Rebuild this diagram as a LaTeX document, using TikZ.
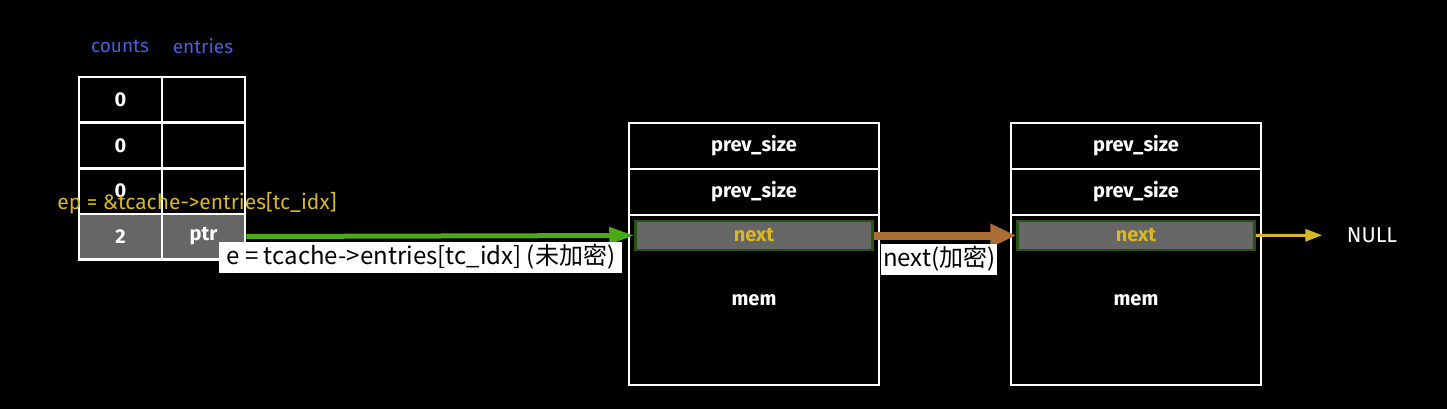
\documentclass[tikz,border=0pt]{standalone}
\usepackage{fontspec}
\setmainfont{Fira Sans}
\newfontfamily\cjkfont{Noto Sans CJK SC}
\usetikzlibrary{arrows.meta}

\definecolor{cellGray}{RGB}{102,102,102}
\definecolor{titleBlue}{RGB}{70,96,222}
\definecolor{ptrYellow}{RGB}{216,184,40}
\definecolor{linkGreen}{RGB}{76,168,24}
\definecolor{linkBrown}{RGB}{170,110,52}
\definecolor{nextBorder}{RGB}{40,82,20}

\begin{document}
\begin{tikzpicture}
[x=1pt,y=-1pt,
  cellDecorate/.style={draw=white,line width=2.5pt,minimum width=83pt,minimum height=45.5pt,
    inner sep=0pt,text=white,font=\bfseries\fontsize{20}{22}\selectfont},
  fieldDecorate/.style={draw=white,line width=2.5pt,minimum width=250pt,minimum height=46pt,
    inner sep=0pt,text=white,font=\bfseries\fontsize{20}{22}\selectfont},
  nextDecorate/.style={draw=nextBorder,fill=cellGray,line width=2.5pt,minimum width=237pt,
    minimum height=29pt,inner sep=0pt,text=ptrYellow,font=\bfseries\fontsize{20}{22}\selectfont},
  titleDecorate/.style={text=titleBlue,font=\fontsize{19}{21}\selectfont},
  labelBox/.style={fill=white,text=black,inner xsep=2pt,inner ysep=0pt,minimum height=31pt,
    font=\cjkfont\fontsize{24}{26}\selectfont},
  greenLine/.style={draw=linkGreen,line width=5pt,-{Triangle[length=25pt,width=16pt]}},
  brownLine/.style={draw=linkBrown,line width=8pt,-{Triangle[length=26pt,width=22pt]}},
  yellowLine/.style={draw=ptrYellow,line width=3pt,-{Triangle[length=17pt,width=12pt]},shorten >=21pt}]
\useasboundingbox[fill=black] (0,0) rectangle (1447,409);
%% tcache table
\node (counts) at (120,46) [titleDecorate] {counts};
\node (entries) at (203,46) [titleDecorate] {entries};
\foreach \rowname/\y in {0/100, 1/145.5, 2/191}
{
  \node (cnt\rowname) at (120.5,\y) [cellDecorate] {0};
  \node (ent\rowname) at (203.5,\y) [cellDecorate] {};
}
\node (cnt3) at (120.5,236.5) [cellDecorate,fill=cellGray] {2};
\node (ptr) at (203.5,236.5) [cellDecorate,fill=cellGray] {ptr};
\node (ep) at (197,203) [text=ptrYellow,font=\fontsize{21}{23}\selectfont] {ep = \&tcache->entries[tc\_idx]};
%% chunks
\foreach \chunk/\x in {1/754, 2/1136}
{
  \node (head\chunk) at (\x,146) [fieldDecorate] {prev\_size};
  \node (size\chunk) at (\x,192) [fieldDecorate] {prev\_size};
  \node (mem\chunk) at (\x,300) [fieldDecorate,minimum height=170pt] {mem};
  \node (next\chunk) at (\x,235.5) [nextDecorate] {next};
}
\node (null) at (1372,235) [text=white,font=\fontsize{21.5}{23}\selectfont] {NULL};
%% links
\draw[greenLine] (ptr.east) -- (next1.west)
  node[pos=0.45,anchor=north,yshift=-3pt,labelBox,minimum width=403pt] {e = tcache->entries[tc\_idx] (未加密)};
\draw[brownLine] (next1.east) -- (next2.west)
  node[pos=0.46,anchor=north,yshift=-4pt,labelBox] {next(加密)};
\draw[yellowLine] (next2.east) -- (null);
\end{tikzpicture}
\end{document}
